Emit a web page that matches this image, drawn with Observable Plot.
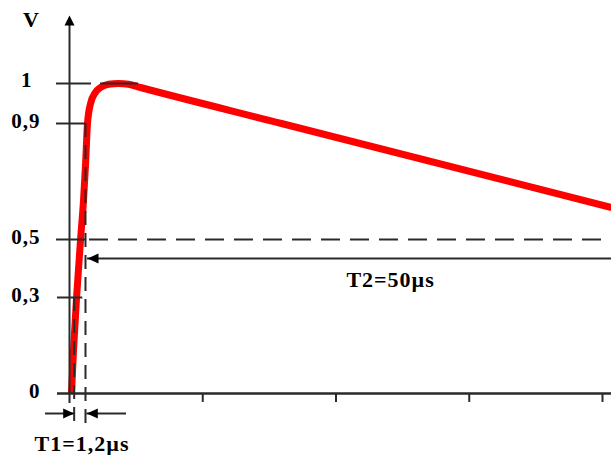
<!DOCTYPE html>
<html><head><meta charset="utf-8">
<script src="https://cdn.jsdelivr.net/npm/d3@7"></script>
<script src="https://cdn.jsdelivr.net/npm/@observablehq/plot@0.6"></script>
<style>html,body{margin:0;padding:0;background:#fff}</style>
</head><body><div id="chart"></div>
<script>
// Voltage ticks (per-unit) and their labels
const voltTicks = [0, 0.3, 0.5, 0.9, 1];
const voltLabels = ["0", "0,3", "0,5", "0,9", "1"];
// Time ticks (µs), unlabeled
const timeTicks = [10, 20, 30, 40];
// Impulse curve: time (µs) and voltage (per-unit)
const curveTime = [0.15, 0.30, 0.53, 0.68, 0.83, 1.05, 1.20, 1.35, 1.58, 1.95, 2.33, 2.93, 3.68, 4.43, 5.33, 15.91, 40.68];
const curveVolt = [0, 0.134, 0.30, 0.40, 0.50, 0.634, 0.755, 0.90, 0.95, 0.978, 0.99, 0.998, 1.0, 0.998, 0.99, 0.90, 0.61];
// Time markers for the front (µs)
const frontStart = 0.35, frontEnd = 1.2;
const halfLevel = 0.5;
const axisLabel = "V";
const t1Label = "T1=1,2µs";
const t2Label = "T2=50µs";

const curve = curveTime.map((t, i) => ({t, v: curveVolt[i]}));
const ticks = voltTicks.map((v, i) => ({v, label: voltLabels[i]}));

const tMin = -0.9, tMax = 40.68;
const below = -0.094;   // lower end of the marker lines
const arrowRow = -0.0625;

const arrowUp = {draw(c){ c.moveTo(0,0); c.lineTo(-5,10); c.lineTo(5,10); c.closePath(); }};
const arrowLeft = {draw(c){ c.moveTo(0,0); c.lineTo(11,-5); c.lineTo(11,5); c.closePath(); }};
const arrowRight = {draw(c){ c.moveTo(0,0); c.lineTo(-11,-5); c.lineTo(-11,5); c.closePath(); }};

const ink = "#2a2a2a";
const font = {fontFamily: "Liberation Serif", fontWeight: "bold", fill: "#000"};

const chart = Plot.plot({
  width: 611, height: 455, margin: 0,
  style: {fontFamily: "Liberation Serif", letterSpacing: "1px", background: "#fff"},
  x: {type: "linear", domain: [0, 40], range: [69, 602], axis: null},
  y: {type: "linear", domain: [0, 0.3, 0.5, 0.9, 1], range: [393, 297, 239, 123, 83], axis: null},
  marks: [
    // red impulse
    Plot.line(curve, {x: "t", y: "v", stroke: "#ff0000", strokeWidth: 7, curve: "monotone-x", strokeLinecap: "butt"}),
    // x axis and ticks
    Plot.ruleY([0], {x1: tMin, x2: tMax, stroke: ink, strokeWidth: 2.4}),
    Plot.ruleX(timeTicks, {y1: 0, y2: -0.028, stroke: ink, strokeWidth: 2}),
    // y axis with arrow
    Plot.ruleX([0], {y1: -0.031, y2: 1.15, stroke: ink, strokeWidth: 2}),
    Plot.dot([{t: 0, v: 1.17}], {x: "t", y: "v", symbol: arrowUp, fill: "#000", r: 4}),
    // y tick lines
    Plot.ruleY([1], {x1: -0.98, x2: 1.65, stroke: ink, strokeWidth: 2}),
    Plot.ruleY([1], {x1: 2.33, x2: 5.18, stroke: ink, strokeWidth: 2}),
    Plot.ruleY([0.9], {x1: -0.98, x2: frontEnd, stroke: ink, strokeWidth: 2}),
    Plot.ruleY([0.3], {x1: -0.9, x2: 1.0, stroke: ink, strokeWidth: 2}),
    Plot.ruleY([halfLevel], {x1: -0.98, x2: frontEnd, stroke: ink, strokeWidth: 2}),
    Plot.ruleY([halfLevel], {x1: frontEnd + 0.3, x2: tMax, stroke: ink, strokeWidth: 2, strokeDasharray: "19,10"}),
    // front markers
    Plot.ruleX([frontEnd], {y1: 0.9, y2: below, stroke: ink, strokeWidth: 2, strokeDasharray: "14,8"}),
    Plot.ruleX([frontStart], {y1: 0.3, y2: below, stroke: ink, strokeWidth: 2, strokeDasharray: "14,8"}),
    // T2 arrow
    Plot.ruleY([0.4345], {x1: frontEnd + 0.15, x2: tMax, stroke: ink, strokeWidth: 2}),
    Plot.dot([{t: frontEnd + 0.15, v: 0.4345}], {x: "t", y: "v", symbol: arrowLeft, fill: "#000", r: 4}),
    // T1 arrows
    Plot.ruleY([arrowRow], {x1: -1.8, x2: frontStart, stroke: ink, strokeWidth: 2}),
    Plot.dot([{t: frontStart, v: arrowRow}], {x: "t", y: "v", symbol: arrowRight, fill: "#000", r: 4}),
    Plot.ruleY([arrowRow], {x1: frontEnd + 0.1, x2: 4.28, stroke: ink, strokeWidth: 2}),
    Plot.dot([{t: frontEnd + 0.1, v: arrowRow}], {x: "t", y: "v", symbol: arrowLeft, fill: "#000", r: 4}),
    // labels
    Plot.text(ticks.filter(d => d.v !== 1), {x: 0, y: "v", text: "label", dx: -29, dy: -2, textAnchor: "end", fontSize: 21, ...font}),
    Plot.text(ticks.filter(d => d.v === 1), {x: 0, y: "v", text: "label", dx: -37, dy: -3.5, textAnchor: "end", fontSize: 21, ...font}),
    Plot.text([axisLabel], {x: 0, y: 1.16, text: d => d, dx: -38, fontSize: 22, ...font}),
    Plot.text([t1Label], {x: 0.94, y: -0.1625, text: d => d, dy: -2, fontSize: 22, ...font}),
    Plot.text([t2Label], {x: 24.1, y: 0.359, text: d => d, fontSize: 22, ...font})
  ]
});
document.getElementById("chart").appendChild(chart);
</script>
</body></html>
